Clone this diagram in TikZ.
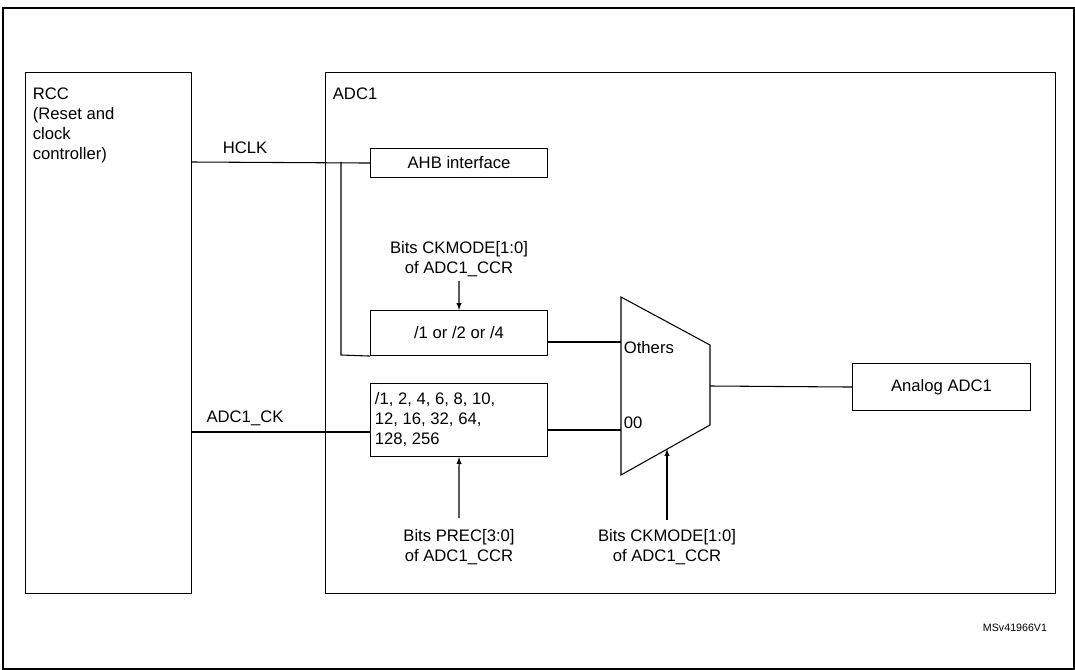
\documentclass[tikz,border=0pt]{standalone}
\usepackage{fontspec}
\setmainfont{Liberation Sans}
\begin{document}
\begin{tikzpicture}[x=0.75pt,y=-0.75pt,line width=0.8pt,
  box/.style={draw,rectangle,inner sep=0pt},
  lbl/.style={font=\fontsize{12.5}{15}\selectfont,align=center,inner sep=1pt},
  arr/.style={-latex}]
\useasboundingbox (0,0) rectangle (1075,670);
\draw[line width=1.2pt] (3,669) -- (3,8) -- (1074,8) -- (1074,669) -- cycle;
\node[box,minimum width=166*0.75pt,minimum height=521*0.75pt,anchor=north west] (rcc) at (25,72) {};
\node[lbl,anchor=north west,align=left] (rcct) at (31,86) {RCC\\(Reset and\\clock\\controller)};
\node[box,minimum width=730*0.75pt,minimum height=521*0.75pt,anchor=north west] (adc) at (325,72) {};
\node[lbl,anchor=north west] (adct) at (331,86) {ADC1};
\node[box,lbl,minimum width=177*0.75pt,minimum height=29*0.75pt,anchor=north west] (ahb) at (370,148) {AHB interface};
\node[box,lbl,minimum width=177*0.75pt,minimum height=45*0.75pt,anchor=north west] (div) at (370,310) {/1 or /2 or /4};
\node[box,minimum width=177*0.75pt,minimum height=73*0.75pt,anchor=north west] (pre) at (370,383) {};
\node[lbl,anchor=west,align=left] (pret) at (373,419.5) {/1, 2, 4, 6, 8, 10,\\12, 16, 32, 64,\\128, 256};
\node[box,lbl,minimum width=178*0.75pt,minimum height=47*0.75pt,anchor=north west] (ana) at (852,363) {Analog ADC1};
\coordinate (m1) at (621,297); \coordinate (m2) at (710,345);
\coordinate (m3) at (710,425); \coordinate (m4) at (621,475);
\draw (m1) -- (m2) -- (m3) -- (m4) -- cycle;
\node[lbl,anchor=west] (oth) at (622,348) {Others};
\node[lbl,anchor=west] (zz) at (622,423) {00};
\coordinate (hc) at (191,162); \coordinate (br) at (341,162); \coordinate (brb) at (341,355);
\draw (hc) -- (ahb.west);
\draw (br) -- (brb) -- (div.south west);
\node[lbl] (hclk) at (245,148) {HCLK};
\draw (191,432) -- (370,432);
\node[lbl] (adcck) at (245,418) {ADC1\_CK};
\node[lbl] (ck1) at (459,259) {Bits CKMODE[1:0]\\of ADC1\_CCR};
\draw[arr] (459,281) -- (div.north);
\node[lbl] (prec) at (459,547) {Bits PREC[3:0]\\of ADC1\_CCR};
\draw[arr] (459,518) -- (pre.south);
\node[lbl] (ck2) at (667,547) {Bits CKMODE[1:0]\\of ADC1\_CCR};
\draw[arr] (667,520) -- (667,449);
\draw (547,342) -- (621,342);
\draw (547,430) -- (621,430);
\draw (710,386) -- (ana.west);
\node[font=\fontsize{8}{10}\selectfont] (ms) at (1015,628) {MSv41966V1};
\end{tikzpicture}
\end{document}
